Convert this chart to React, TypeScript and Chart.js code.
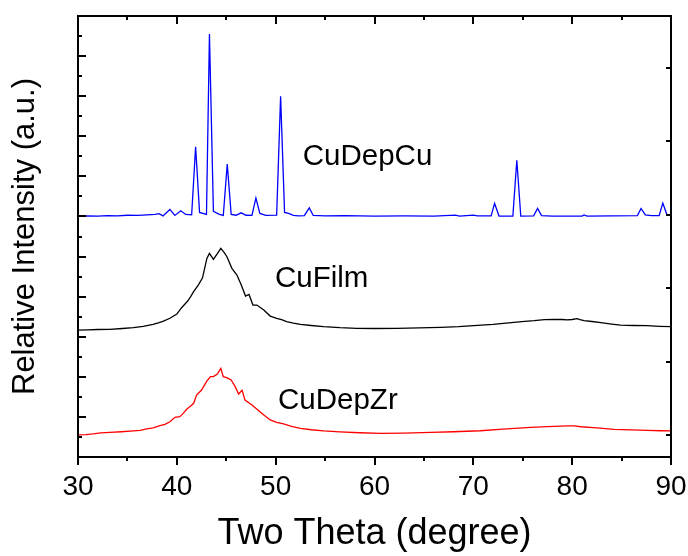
import React, { useEffect, useRef } from "react";
import { Chart, registerables } from "chart.js";

Chart.register(...registerables);

// ---- Data (2θ in degrees, relative intensity in arbitrary offset units) ----
const cuDepCuX = [30, 31, 32, 33, 34, 35, 36, 37, 37.8, 38.2, 38.6, 39.3, 39.8, 40.4, 40.9, 41.5, 41.9, 42.3, 43.0, 43.3, 43.7, 44.3, 44.7, 45.1, 45.5, 46.0, 46.5, 47.0, 47.6, 48.0, 48.4, 49.0, 50.1, 50.5, 50.9, 51.3, 51.8, 52.3, 52.9, 53.4, 53.8, 55, 57, 60, 63, 66, 68.2, 68.6, 70.0, 70.4, 71.8, 72.15, 72.6, 74.0, 74.4, 74.8, 76.1, 76.5, 76.9, 78, 81.0, 81.2, 81.5, 84, 86.6, 86.97, 87.4, 88.0, 88.8, 89.17, 89.6, 90];
const cuDepCuY = [12.02, 12.03, 12.02, 12.04, 12.03, 12.06, 12.05, 12.08, 12.1, 12.14, 12.03, 12.35, 12.05, 12.28, 12.1, 12.08, 15.48, 12.2, 12.1, 21.1, 12.25, 12.1, 12.05, 14.61, 12.1, 12.06, 12.18, 12.06, 12.05, 12.92, 12.15, 12.05, 12.07, 17.99, 12.2, 12.15, 12.05, 12.03, 12.04, 12.43, 12.05, 12.03, 12.04, 12.02, 12.03, 12.02, 12.07, 12.02, 12.07, 12.03, 12.03, 12.65, 12.02, 12.02, 14.8, 12.02, 12.03, 12.4, 12.04, 12.02, 12.02, 12.08, 12.02, 12.03, 12.04, 12.4, 12.08, 12.04, 12.04, 12.67, 12.07, 12.05];

const cuFilmX = [30, 31, 32, 33.2, 34.5, 35.6, 36.6, 37.6, 38.2, 38.65, 39.3, 40.0, 40.5, 41.1, 41.4, 41.7, 42.2, 42.6, 43.04, 43.3, 43.7, 44.1, 44.45, 44.8, 45.07, 45.57, 46.08, 46.5, 46.95, 47.3, 47.7, 48.1, 48.8, 49.45, 50.1, 50.6, 51.1, 51.8, 52.5, 53.6, 54.85, 56.5, 58.2, 60, 62.3, 64.5, 66.7, 68.5, 70.05, 72, 74.1, 75.2, 76.15, 77.2, 78.2, 79.0, 79.5, 80.0, 80.5, 80.8, 81.2, 82.0, 82.9, 84, 84.9, 86.2, 87.6, 88.8, 90];
const cuFilmY = [6.33, 6.34, 6.36, 6.37, 6.41, 6.45, 6.52, 6.62, 6.7, 6.78, 6.92, 7.13, 7.46, 7.78, 8.0, 8.25, 8.6, 8.94, 9.91, 10.16, 9.86, 10.15, 10.41, 10.2, 9.99, 9.41, 9.08, 8.6, 8.03, 8.11, 7.58, 7.58, 7.33, 7.03, 6.92, 6.85, 6.75, 6.68, 6.62, 6.56, 6.5, 6.45, 6.42, 6.41, 6.42, 6.44, 6.47, 6.5, 6.55, 6.62, 6.72, 6.77, 6.8, 6.85, 6.87, 6.86, 6.84, 6.86, 6.9, 6.85, 6.8, 6.76, 6.7, 6.63, 6.58, 6.56, 6.55, 6.52, 6.5];

const cuDepZrX = [30, 30.8, 31.55, 32.3, 33.2, 34.4, 35.6, 36.3, 36.96, 37.6, 38.3, 38.8, 39.3, 39.8, 40.3, 40.6, 41.0, 41.4, 41.7, 42.0, 42.5, 43.0, 43.4, 43.7, 44.1, 44.45, 44.7, 45.1, 45.5, 45.9, 46.25, 46.6, 46.9, 47.6, 48.2, 48.8, 49.45, 50.1, 50.8, 51.6, 52.5, 53.6, 54.85, 56.5, 58.5, 60.6, 63, 65.7, 68, 70.7, 73, 75.8, 77.5, 79.5, 80.2, 80.9, 82.5, 84.25, 86, 87.6, 89, 90];
const cuDepZrY = [1.1, 1.12, 1.15, 1.2, 1.23, 1.26, 1.3, 1.33, 1.4, 1.45, 1.56, 1.63, 1.76, 1.98, 2.01, 2.15, 2.38, 2.55, 2.68, 3.09, 3.34, 3.76, 4.01, 4.01, 4.14, 4.42, 4.01, 3.95, 3.84, 3.51, 3.14, 3.33, 2.84, 2.59, 2.35, 2.09, 1.85, 1.73, 1.65, 1.53, 1.43, 1.36, 1.3, 1.25, 1.21, 1.18, 1.19, 1.23, 1.26, 1.31, 1.39, 1.48, 1.52, 1.55, 1.55, 1.51, 1.45, 1.38, 1.35, 1.33, 1.31, 1.3];

const xTickValues = [30, 40, 50, 60, 70, 80, 90];
const seriesNames = ["CuDepCu", "CuFilm", "CuDepZr"];
const seriesColors = ["#0000ff", "#000000", "#ff0000"];
// annotation anchors (2θ, intensity) for each series name
const labelX = [52.74, 49.93, 50.24];
const labelY = [14.56, 8.48, 2.39];

const FONT = "'Liberation Sans', Arial, Helvetica, sans-serif";

const zip = (xs: number[], ys: number[]) => xs.map((x, i) => ({ x, y: ys[i] }));

const framePlugin = {
  id: "originFrame",
  afterDatasetsDraw(chart: any) {
    const { ctx, chartArea } = chart;
    const { left, right, top, bottom } = chartArea;
    const xs = chart.scales.x;
    const ys = chart.scales.y;
    const y2 = chart.scales.y2;
    ctx.save();
    // annotations
    ctx.fillStyle = "#000";
    ctx.font = `29.5px ${FONT}`;
    ctx.textBaseline = "alphabetic";
    ctx.textAlign = "left";
    seriesNames.forEach((n, i) => {
      ctx.fillText(n, xs.getPixelForValue(labelX[i]), ys.getPixelForValue(labelY[i]));
    });
    // frame
    ctx.strokeStyle = "#000";
    ctx.lineWidth = 2;
    ctx.lineCap = "butt";
    ctx.strokeRect(left, top, right - left, bottom - top);
    ctx.beginPath();
    // x ticks (bottom outward, top inward)
    for (let v = 30; v <= 90; v += 5) {
      const px = Math.round(xs.getPixelForValue(v));
      const major = v % 10 === 0;
      const len = major ? 8 : 4;
      ctx.moveTo(px, bottom);
      ctx.lineTo(px, bottom + len);
      ctx.moveTo(px, top);
      ctx.lineTo(px, top + len);
    }
    // left ticks inward
    for (let v = 1; v <= 21; v++) {
      const py = Math.round(ys.getPixelForValue(v));
      const len = v % 2 === 0 ? 8 : 4;
      ctx.moveTo(left, py);
      ctx.lineTo(left + len, py);
    }
    // right ticks inward
    for (let v = 0; v <= 5; v++) {
      const py = Math.round(y2.getPixelForValue(v));
      ctx.moveTo(right, py);
      ctx.lineTo(right - 5, py);
    }
    ctx.stroke();
    ctx.restore();
  },
};

export default function App() {
  const ref = useRef<HTMLCanvasElement | null>(null);
  useEffect(() => {
    if (!ref.current) return;
    const data = [zip(cuDepCuX, cuDepCuY), zip(cuFilmX, cuFilmY), zip(cuDepZrX, cuDepZrY)];
    const chart = new Chart(ref.current, {
      type: "line",
      data: {
        datasets: seriesNames.map((n, i) => ({
          label: n,
          data: data[i],
          borderColor: seriesColors[i],
          borderWidth: 1.3,
          pointRadius: 0,
          tension: 0,
          fill: false,
        })),
      },
      options: {
        responsive: false,
        animation: false,
        events: [],
        layout: { padding: { top: 16, right: 17, left: 0, bottom: 0 } },
        plugins: { legend: { display: false }, tooltip: { enabled: false } },
        scales: {
          x: {
            type: "linear",
            min: 30,
            max: 90,
            afterBuildTicks: (s: any) => {
              s.ticks = xTickValues.map((v) => ({ value: v }));
            },
            afterFit: (s: any) => {
              s.height = 99;
              s.paddingLeft = 0;
              s.paddingRight = 0;
            },
            ticks: {
              autoSkip: false,
              maxRotation: 0,
              padding: 13,
              color: "#000",
              font: { family: FONT, size: 28 },
              callback: (v: any) => String(v),
            },
            grid: { display: false, drawTicks: false },
            border: { display: false },
            title: {
              display: true,
              text: "Two Theta (degree)",
              color: "#000",
              font: { family: FONT, size: 36, lineHeight: 1 },
              padding: { top: 0, bottom: 4 },
            },
          },
          y: {
            type: "linear",
            min: 0,
            max: 22,
            afterFit: (s: any) => {
              s.width = 78;
              s.paddingTop = 0;
              s.paddingBottom = 0;
            },
            ticks: { display: false },
            grid: { display: false, drawTicks: false },
            border: { display: false },
            title: {
              display: true,
              text: "Relative Intensity (a.u.)",
              color: "#000",
              font: { family: FONT, size: 31, lineHeight: 1 },
              padding: { top: 10, bottom: 0 },
            },
          },
          y2: {
            type: "linear",
            position: "right",
            display: false,
            min: -0.3,
            max: 5.71,
          },
        },
      },
      plugins: [framePlugin],
    } as any);
    return () => chart.destroy();
  }, []);
  return (
    <div style={{ position: "absolute", left: 0, top: 0, width: 688, height: 556, background: "#fff" }}>
      <canvas ref={ref} width={688} height={556} style={{ display: "block" }} />
    </div>
  );
}
